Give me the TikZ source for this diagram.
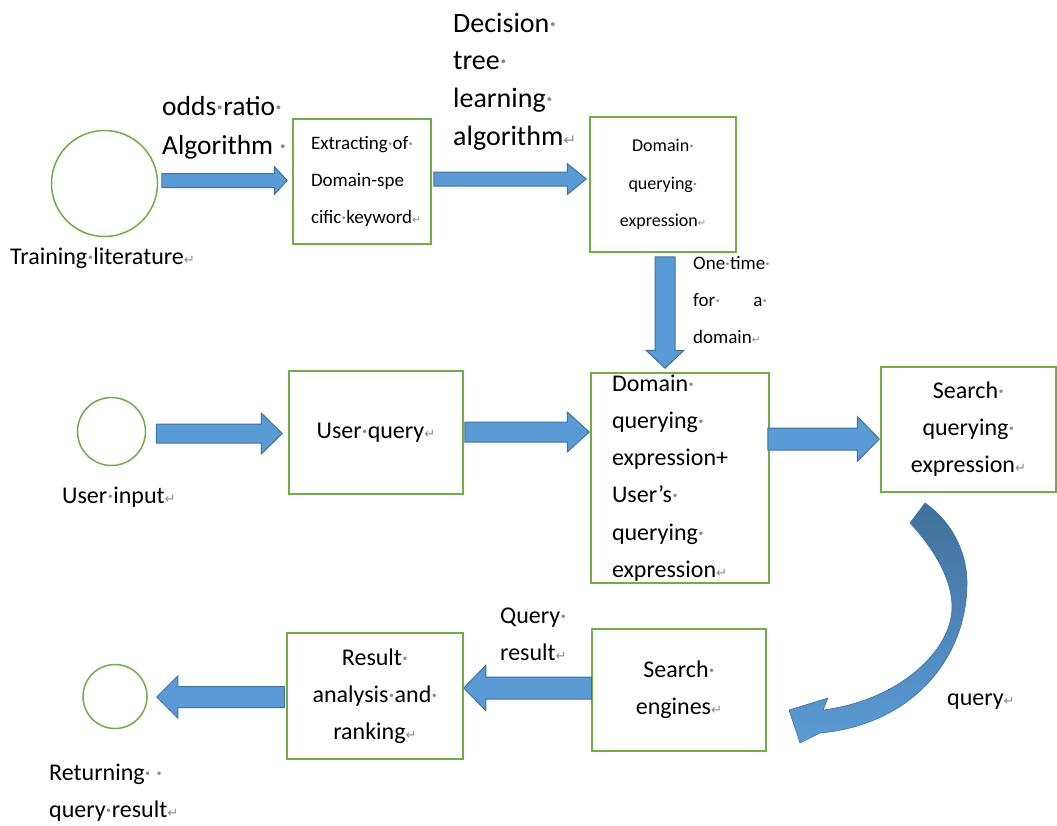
\documentclass[tikz,border=0pt]{standalone}
\usepackage{fontspec}
\setmainfont{Carlito}
\newfontfamily\dejavu{DejaVu Sans}
\usetikzlibrary{calc}
\definecolor{abl}{HTML}{5B9BD5}
\definecolor{abd}{HTML}{41719C}
\definecolor{gbox}{HTML}{70AD47}
\definecolor{fmk}{HTML}{8C8C8C}
\newcommand\spm{{\color{fmk}·}}
\newcommand\rtm{{\color{fmk}\dejavu\scalebox{0.55}{↵}}}
\newcommand\fmain{\fontsize{24}{37}\selectfont}
\newcommand\fsmall{\fontsize{19}{37}\selectfont}
\newcommand\fbig{\fontsize{28}{37.7}\selectfont}
\tikzset{
  box/.style={draw=gbox, line width=1.5pt, inner sep=0pt, font=\fmain, align=center},
  circ/.style={draw=gbox, line width=1.5pt, circle, inner sep=0pt},
  barrow/.style={fill=abl, draw=abd, line width=1pt, line join=miter},
  lbl/.style={inner sep=0pt, anchor=west, align=left, font=\fmain}
}
% block arrow: from, to, gap at start, gap at end, shaft half, head half, head length
\newcommand\blockarrow[7]{%
  \coordinate (baA) at ($(#1)!#3!(#2)$);
  \coordinate (baB) at ($(#2)!#4!(#1)$);
  \filldraw[barrow] ($(baA)!#5!90:(baB)$)
    -- ($(baB)!#7!(baA)!#5!-90:(baA)$)
    -- ($(baB)!#7!(baA)!#6!-90:(baA)$)
    -- (baB)
    -- ($(baB)!#7!(baA)!#6!90:(baA)$)
    -- ($(baB)!#7!(baA)!#5!90:(baA)$)
    -- ($(baA)!#5!-90:(baB)$) -- cycle;}
\begin{document}
\begin{tikzpicture}[x=1pt, y=-1pt]
\path[use as bounding box] (0,0) rectangle (1057,825);

% ---- row 1
\node[circ, minimum size=106] (c1) at (104.5,183.5) {};
\node[lbl] (l1) at (10,258) {Training\spm literature\rtm};
\node[lbl, font=\fontsize{27.5}{39}\selectfont] (l2) at (162,127.5) {odds\spm ratio\spm\\Algorithm\ \spm};
\node[box, minimum width=138, minimum height=125, text width=102, inner xsep=18, align=left, font=\fsmall] (b1) at (362,181.5)
  {Extracting\spm of\spm\\Domain-spe\\cific\spm keyword\rtm};
\node[lbl, font=\fbig] (l3) at (453,81.5) {Decision\spm\\tree\spm\\learning\spm\\algorithm\rtm};
\node[box, minimum width=146, minimum height=135, font=\fontsize{18}{37.5}\selectfont] (b2) at (663,184.5)
  {Domain\spm\\querying\spm\\expression\rtm};
\node[lbl, font=\fsmall] (l4) at (693,300) {One\spm time\spm\\\makebox[74pt][s]{for\spm\hfill a\spm}\\domain\rtm};

% ---- row 2
\node[circ, minimum size=68] (c2) at (111.5,431.5) {};
\node[lbl] (l5) at (62,497) {User\spm input\rtm};
\node[box, minimum width=174, minimum height=123] (b3) at (376,432.5) {User\spm query\rtm};
\node[box, minimum width=178, minimum height=210, text width=136, inner xsep=21, align=left, font=\fontsize{24}{37.2}\selectfont] (b4) at (680,478)
  {Domain\spm\\querying\spm\\expression+\\User’s\spm\\querying\spm\\expression\rtm};
\node[box, minimum width=175, minimum height=125] (b5) at (968.5,429.5) {Search\spm\\querying\spm\\expression\rtm};

% ---- row 3
\node[box, minimum width=174, minimum height=122] (b6) at (679,690) {Search\spm\\engines\rtm};
\node[box, minimum width=176, minimum height=126] (b7) at (375,696) {Result\spm\\analysis\spm and\spm\\ranking\rtm};
\node[circ, minimum size=64] (c3) at (115,696.5) {};
\node[lbl] (l6) at (947,702) {query\rtm};
\node[lbl] (l7) at (500,634.5) {Query\spm\\result\rtm};
\node[lbl] (l8) at (49,793) {Returning\spm\ \spm\\query\spm result\rtm};

% ---- block arrows
\blockarrow{c1.east |- 0,180.5}{b1.west |- 0,180.5}{3.5pt}{5pt}{7pt}{14pt}{13pt}
\blockarrow{b1.east |- 0,179}{b2.west |- 0,179}{2pt}{3pt}{7pt}{15.5pt}{19pt}
\blockarrow{b2.south -| 665,0}{b4.north -| 665,0}{4pt}{4pt}{10pt}{19pt}{18pt}
\blockarrow{c2.east |- 0,433.5}{b3.west |- 0,433.5}{10pt}{6pt}{9.5pt}{20.5pt}{21pt}
\blockarrow{b3.east |- 0,432}{b4.west |- 0,432}{1pt}{1pt}{10pt}{20pt}{22pt}
\blockarrow{b4.east |- 0,439}{b5.west |- 0,439}{-2pt}{1pt}{11pt}{22.5pt}{22pt}
\blockarrow{b6.west |- 0,688}{b7.east |- 0,688}{0pt}{0pt}{11pt}{22.5pt}{22pt}
\blockarrow{b7.west |- 0,697}{c3.east |- 0,697}{2pt}{9pt}{10.5pt}{21pt}{21pt}

% ---- curved arrow from b5 to b6
\shade[top color=abd, bottom color=abl, draw=abd, line width=0.6pt]
  (910,523) .. controls (935,550) and (952,580) .. (952,607)
  .. controls (952,650) and (900,700) .. (823,710)
  -- (828,698) -- (789,710) -- (800,743) -- (820,733)
  .. controls (910,725) and (967,660) .. (967,583)
  .. controls (967,550) and (950,520) .. (925,503) -- cycle;
\end{tikzpicture}
\end{document}
